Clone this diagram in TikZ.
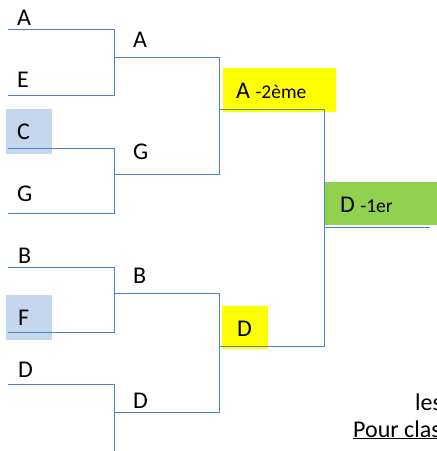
\documentclass[tikz,border=0pt]{standalone}
\usepackage{fontspec}
\setmainfont{Carlito}
\definecolor{brk}{RGB}{79,129,189}
\definecolor{hlblue}{RGB}{197,214,239}
\definecolor{hlyellow}{RGB}{255,255,0}
\definecolor{hlgreen}{RGB}{146,208,80}
\tikzset{
  lbl/.style={inner sep=0pt, anchor=base west, font=\fontsize{24}{28}\selectfont},
  brkline/.style={draw=brk, line width=0.9pt},
}
\newcommand{\smallsz}{\fontsize{19.5}{23}\selectfont}
\begin{document}
\begin{tikzpicture}[x=1pt,y=-1pt]
\useasboundingbox (0,0) rectangle (437,451);
\clip (0,0) rectangle (437,451);
% highlight boxes
\fill[hlblue] (6,109) rectangle (52,154);
\fill[hlblue] (6,295) rectangle (52,340);
\fill[hlyellow] (223,68) rectangle (336,112);
\fill[hlyellow] (222,306) rectangle (268,349);
\fill[hlgreen] (324,182) rectangle (440,225);
% coordinates of bracket slots
\coordinate (a0) at (8,29);   \coordinate (a1) at (114,29);
\coordinate (e0) at (8,95);   \coordinate (e1) at (114,95);
\coordinate (c0) at (8,148);  \coordinate (c1) at (114,148);
\coordinate (g0) at (8,213);  \coordinate (g1) at (114,213);
\coordinate (b0) at (8,267);  \coordinate (b1) at (114,267);
\coordinate (f0) at (8,332);  \coordinate (f1) at (114,332);
\coordinate (d0) at (8,384);  \coordinate (d1) at (114,384);
\coordinate (x1) at (114,460);
\coordinate (ra0) at (114,57);  \coordinate (ra1) at (219,57);
\coordinate (rg0) at (114,174); \coordinate (rg1) at (219,174);
\coordinate (rb0) at (114,293); \coordinate (rb1) at (219,293);
\coordinate (rd0) at (114,412); \coordinate (rd1) at (219,412);
\coordinate (sa0) at (219,109); \coordinate (sa1) at (324,109);
\coordinate (sd0) at (219,346); \coordinate (sd1) at (324,346);
\coordinate (w0) at (324,227);  \coordinate (w1) at (430,227);
% bracket lines
\draw[brkline] (a0) -- (a1) -- (e1) -- (e0);
\draw[brkline] (c0) -- (c1) -- (g1) -- (g0);
\draw[brkline] (b0) -- (b1) -- (f1) -- (f0);
\draw[brkline] (d0) -- (d1) -- (x1);
\draw[brkline] (ra0) -- (ra1) -- (rg1) -- (rg0);
\draw[brkline] (rb0) -- (rb1) -- (rd1) -- (rd0);
\draw[brkline] (sa0) -- (sa1) -- (sd1) -- (sd0);
\draw[brkline] (w0) -- (w1);
% labels
\node[lbl] (tA) at (17,25) {A};
\node[lbl] (tE) at (17,87) {E};
\node[lbl] (tC) at (17,139) {C};
\node[lbl] (tG) at (17,201) {G};
\node[lbl] (tB) at (18,263) {B};
\node[lbl] (tF) at (18,325) {F};
\node[lbl] (tD) at (18,377) {D};
\node[lbl] (uA) at (133,47) {A};
\node[lbl] (uG) at (133,159) {G};
\node[lbl] (uB) at (133,283) {B};
\node[lbl] (uD) at (133,408) {D};
\node[lbl] (vA) at (236,98) {A {\smallsz-2ème}};
\node[lbl] (vD) at (237,336) {D};
\node[lbl] (wD) at (340,212) {D {\smallsz-1er}};
\node[lbl] (les) at (415,410) {les};
\node[lbl] (pour) at (353,437) {\underline{Pour classement}};
\end{tikzpicture}
\end{document}
